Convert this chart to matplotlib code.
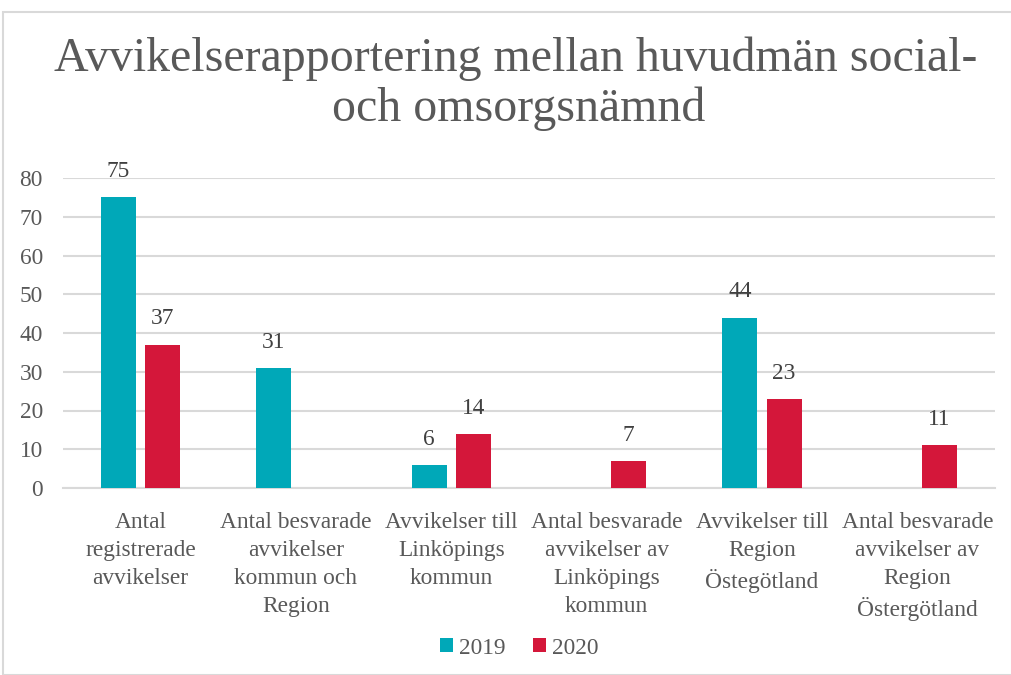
import numpy as np
import matplotlib.pyplot as plt
from matplotlib.patches import Rectangle

categories = [
    "Antal\nregistrerade\navvikelser",
    "Antal besvarade\navvikelser\nkommun och\nRegion",
    "Avvikelser till\nLinköpings\nkommun",
    "Antal besvarade\navvikelser av\nLinköpings\nkommun",
    "Avvikelser till\nRegion\nÖstegötland",
    "Antal besvarade\navvikelser av\nRegion\nÖstergötland",
]
values_2019 = [75, 31, 6, None, 44, None]
values_2020 = [37, None, 14, 7, 23, 11]
y_ticks = [0, 10, 20, 30, 40, 50, 60, 70, 80]

teal = "#00A8B8"
red = "#D4173A"
text_col = "#595959"
grid_col = "#D9D9D9"
fs = 16.8

plt.rcParams['font.family'] = ['Liberation Serif', 'DejaVu Serif']

fig = plt.figure(figsize=(10.12, 6.75), dpi=100)
ax = fig.add_axes([63 / 1012, 1 - 488 / 675, (995 - 63) / 1012, (488 - 178) / 675])

x = np.arange(len(categories))
w = 0.225
off = 0.142

for vals, shift, col, lab in [(values_2019, -off, teal, "2019"), (values_2020, off, red, "2020")]:
    xs = [xi + shift for xi, v in zip(x, vals) if v is not None]
    vs = [v for v in vals if v is not None]
    ax.bar(xs, vs, width=w, color=col, label=lab, zorder=3)
    for xi, v in zip(xs, vs):
        ax.annotate(str(v), (xi, v), xytext=(0, 14.5), textcoords="offset points",
                    ha="center", va="baseline", fontsize=fs, color="#404040")

ax.set_xlim(-0.5, len(categories) - 0.5)
ax.set_ylim(0, 80)
ax.set_yticks(y_ticks)
ax.tick_params(axis="y", length=0, labelsize=fs, labelcolor=text_col, pad=14.5)
ax.tick_params(axis="x", length=0, labelsize=fs, labelcolor=text_col, pad=17.5)
ax.set_xticks(x)
ax.set_xticklabels(categories, linespacing=1.43, va="top")
ax.yaxis.grid(True, color=grid_col, linewidth=1.5, zorder=0)
for s in ["top", "right", "left"]:
    ax.spines[s].set_visible(False)
ax.spines["bottom"].set_color(grid_col)
ax.spines["bottom"].set_linewidth(1.5)

fig.text(0.51, 1 - 71 / 675, "Avvikelserapportering mellan huvudmän social-",
         ha="center", va="baseline", fontsize=34.5, color=text_col)
fig.text(0.512, 1 - 121 / 675, "och omsorgsnämnd",
         ha="center", va="baseline", fontsize=34.5, color=text_col)

fig.legend(loc="center", bbox_to_anchor=(0.513, 1 - 648 / 675), ncol=2, frameon=False,
           fontsize=fs, handlelength=0.55, handleheight=0.55,
           handletextpad=0.25, columnspacing=1.2, labelcolor=text_col)

fig.patches.append(Rectangle((3 / 1012, 0), 1 - 3 / 1012, 1 - 12 / 675, transform=fig.transFigure,
                             fill=False, edgecolor=grid_col, linewidth=1.5))

fig.savefig("out.png", dpi=100)
